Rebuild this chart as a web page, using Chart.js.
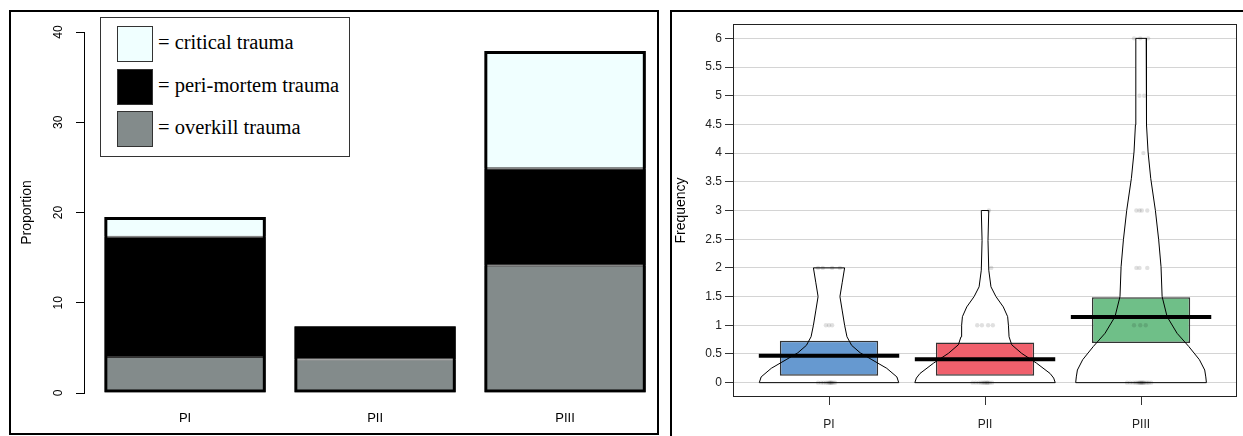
<!DOCTYPE html>
<html>
<head>
<meta charset="utf-8">
<script src="https://cdn.jsdelivr.net/npm/chart.js@4.4.0/dist/chart.umd.min.js"></script>
<style>
  body { margin: 0; background: #fff; width: 1243px; height: 436px; position: relative; overflow: hidden; font-family: 'Liberation Sans', Arial, sans-serif; }
  #leftPanel { position: absolute; left: 9px; top: 10px; width: 650px; height: 425px; box-sizing: border-box; border: 2px solid #000; }
  #rightPanel { position: absolute; left: 670px; top: 10px; width: 600px; height: 440px; box-sizing: border-box; border-left: 2px solid #000; border-top: 2px solid #000; }
  canvas { position: absolute; }
  #barCanvas { left: 12px; top: 13px; }
  #pirateCanvas { left: 673px; top: 13px; }
  #legend { position: absolute; left: 100px; top: 17px; width: 250px; height: 140px; box-sizing: border-box; border: 1px solid #333; background: #fff; }
  .swatch { position: absolute; left: 16px; width: 36px; height: 36px; box-sizing: border-box; border: 1px solid #333; }
  .legText { position: absolute; left: 57px; font-family: 'Liberation Serif', 'Times New Roman', serif; font-size: 20.5px; line-height: 20px; color: #000; white-space: nowrap; }
</style>
</head>
<body>
<div id="leftPanel"></div>
<div id="rightPanel"></div>
<canvas id="barCanvas" width="644" height="419"></canvas>
<canvas id="pirateCanvas" width="570" height="423"></canvas>
<div id="legend"></div>

<script>
// ---- left: stacked trauma proportions ----
const categories = ['PI', 'PII', 'PIII'];
const overkill = [4.0, 3.7, 14.1];
const periMortem = [13.3, 3.7, 10.8];
const critical = [2.2, 0, 13.0];
const proportionTicks = [0, 10, 20, 30, 40];
const legendLabels = ['= critical trauma', '= peri-mortem trauma', '= overkill trauma'];
const legendColors = ['#F0FFFF', '#000000', '#838B8B'];

// ---- right: pirate plot of frequencies ----
const frequencyTicks = [0, 0.5, 1, 1.5, 2, 2.5, 3, 3.5, 4, 4.5, 5, 5.5, 6];
const boxLow = [0.12, 0.12, 0.69];
const boxHigh = [0.73, 0.70, 1.49];
const means = [0.47, 0.41, 1.145];
const boxColors = ['#6699d0', '#f0606c', '#6fbf88'];

// violin outlines: [value, half width]
const violinPI = [[0, 0.447], [0.1, 0.435], [0.25, 0.37], [0.4, 0.275], [0.52, 0.2], [0.65, 0.145], [0.8, 0.115], [1.0, 0.1], [1.25, 0.085], [1.5, 0.07], [1.75, 0.085], [2.0, 0.1]];
const violinPII = [[0, 0.45], [0.08, 0.44], [0.16, 0.417], [0.34, 0.33], [0.51, 0.235], [0.66, 0.171], [0.8, 0.154], [1.0, 0.15], [1.15, 0.145], [1.32, 0.117], [1.5, 0.07], [1.67, 0.038], [1.96, 0.024], [2.48, 0.019], [3.0, 0.024]];
const violinPIII = [[0, 0.419], [0.1, 0.415], [0.22, 0.408], [0.4, 0.374], [0.63, 0.306], [0.86, 0.231], [1.15, 0.167], [1.5, 0.135], [2.02, 0.128], [2.49, 0.113], [3.0, 0.092], [3.56, 0.062], [4.02, 0.045], [4.49, 0.036], [5.07, 0.034], [6.0, 0.033]];

// raw observations: [jitter offset, value]
const pointsPI = [[-0.07, 0], [-0.05, 0], [-0.035, 0], [-0.02, 0], [-0.01, 0], [0, 0], [0.005, 0], [0.01, 0], [0.015, 0], [0.02, 0], [0.03, 0], [0.04, 0],
  [-0.02, 1], [0, 1], [0.02, 1], [-0.07, 2], [-0.04, 2], [0.02, 2], [0.07, 2]];
const pointsPII = [[-0.08, 0], [-0.06, 0], [-0.04, 0], [-0.025, 0], [-0.015, 0], [-0.005, 0], [0, 0], [0.01, 0], [0.015, 0], [0.02, 0], [0.03, 0], [0.045, 0],
  [-0.05, 1], [-0.02, 1], [0.02, 1], [0.05, 1], [0.04, 2], [0.025, 3]];
const pointsPIII = [[-0.09, 0], [-0.07, 0], [-0.05, 0], [-0.035, 0], [-0.025, 0], [-0.015, 0], [-0.01, 0], [-0.005, 0], [0, 0], [0.005, 0], [0.01, 0], [0.015, 0], [0.02, 0], [0.03, 0], [0.04, 0], [0.05, 0], [0.065, 0],
  [-0.045, 1], [-0.005, 1], [0.03, 1], [-0.03, 2], [-0.01, 2], [0.04, 2], [-0.03, 3], [-0.01, 3], [0.005, 3], [0.04, 3],
  [0.015, 4], [-0.01, 5], [0.02, 5], [-0.045, 6], [-0.005, 6], [0.045, 6]];

Chart.defaults.font.family = "'Liberation Sans', Arial, sans-serif";
Chart.defaults.color = '#000';

const xPos = categories.map((c, i) => i + 1);
const asPoints = arr => arr.map((v, i) => ({ x: xPos[i], y: v }));
const totals = categories.map((c, i) => overkill[i] + periMortem[i] + critical[i]);

// legend of the left panel
const legend = document.getElementById('legend');
const legendTops = [8, 51, 93];
legendLabels.forEach((txt, i) => {
    const sw = document.createElement('div');
    sw.className = 'swatch';
    sw.style.top = legendTops[i] + 'px';
    sw.style.background = legendColors[i];
    legend.appendChild(sw);
    const t = document.createElement('div');
    t.className = 'legText';
    t.style.top = (legendTops[i] + 6) + 'px';
    t.textContent = txt;
    legend.appendChild(t);
});

const segment = (label, values, color) => ({
    label: label, data: asPoints(values), backgroundColor: color,
    borderColor: '#333', borderWidth: 1, borderSkipped: false, stack: 'trauma', grouped: false
});

new Chart(document.getElementById('barCanvas'), {
    type: 'bar',
    data: {
        datasets: [
            { label: 'outline', data: asPoints(totals), backgroundColor: 'rgba(0,0,0,0)', borderColor: '#000', borderWidth: 3, borderSkipped: false, stack: 'outline', grouped: false },
            segment('overkill trauma', overkill, legendColors[2]),
            segment('peri-mortem trauma', periMortem, legendColors[1]),
            segment('critical trauma', critical, legendColors[0])
        ]
    },
    options: {
        responsive: false, animation: false, devicePixelRatio: 1,
        datasets: { bar: { barPercentage: 0.85, categoryPercentage: 1 } },
        layout: { padding: { top: 19, right: 6, left: 0, bottom: 0 } },
        plugins: { legend: { display: false }, tooltip: { enabled: false } },
        scales: {
            x: {
                type: 'linear', min: 0.468, max: 3.447, offset: false,
                grid: { display: false, drawTicks: false, offset: false }, border: { display: false },
                afterBuildTicks: s => { s.ticks = xPos.map(v => ({ value: v })); },
                afterFit: s => { s.height = 39; },
                ticks: { callback: v => categories[v - 1], padding: 18, font: { size: 13 }, color: '#000', autoSkip: false, maxRotation: 0 }
            },
            y: {
                stacked: true, min: 0, max: 40,
                afterBuildTicks: s => { s.ticks = proportionTicks.map(v => ({ value: v })); },
                afterFit: s => { s.width = 72; },
                grid: { drawOnChartArea: false, tickLength: 8, color: '#000' },
                border: { display: true, color: '#000', width: 1 },
                ticks: { minRotation: 90, maxRotation: 90, crossAlign: 'center', padding: 11, font: { size: 12 }, color: '#000' },
                title: { display: true, text: 'Proportion', font: { size: 14 }, color: '#000', padding: { top: 7, bottom: 0 } }
            }
        }
    }
});

// ---- pirate plot ----
const violins = [violinPI, violinPII, violinPIII];
const pointSets = [pointsPI, pointsPII, pointsPIII];

function violinShape(profile, i) {
    const c = xPos[i];
    const left = profile.map(([v, w]) => ({ x: c - w, y: v }));
    const right = profile.slice().reverse().map(([v, w]) => ({ x: c + w, y: v }));
    return left.concat(right, [left[0]]);
}

const plotFrame = {
    id: 'plotFrame',
    afterDatasetsDraw(chart) {
        const { ctx, chartArea: a } = chart;
        ctx.save();
        ctx.strokeStyle = '#222';
        ctx.lineWidth = 1;
        ctx.strokeRect(a.left + 0.5, a.top + 0.5, a.width - 1, a.height - 1);
        ctx.restore();
    }
};

const pirateSets = [];
violins.forEach((prof, i) => {
    pirateSets.push({ type: 'line', data: violinShape(prof, i), fill: 'shape', backgroundColor: '#fff', borderWidth: 0, pointRadius: 0, order: 10 });
});
pirateSets.push({
    type: 'bar', data: categories.map((c, i) => ({ x: xPos[i], y: [boxLow[i], boxHigh[i]] })),
    backgroundColor: boxColors, borderColor: '#333', borderWidth: 1.5, borderSkipped: false,
    grouped: false, barPercentage: 0.63, categoryPercentage: 1, order: 5
});
violins.forEach((prof, i) => {
    pirateSets.push({ type: 'line', data: violinShape(prof, i), fill: false, borderColor: '#000', borderWidth: 1, pointRadius: 0, order: 4 });
});
pirateSets.push({
    type: 'scatter',
    data: pointSets.flatMap((pts, i) => pts.map(([dx, v]) => ({ x: xPos[i] + dx, y: v }))),
    pointRadius: 2.2, backgroundColor: 'rgba(0,0,0,0.12)', borderWidth: 0, order: 2
});
means.forEach((m, i) => {
    pirateSets.push({ type: 'line', data: [{ x: xPos[i] - 0.45, y: m }, { x: xPos[i] + 0.45, y: m }], borderColor: '#000', borderWidth: 4, borderCapStyle: 'butt', pointRadius: 0, fill: false, order: 1 });
});

new Chart(document.getElementById('pirateCanvas'), {
    type: 'scatter',
    data: { datasets: pirateSets },
    options: {
        responsive: false, animation: false, devicePixelRatio: 1,
        layout: { padding: { top: 11, right: 6, left: 0, bottom: 0 } },
        plugins: { legend: { display: false }, tooltip: { enabled: false } },
        scales: {
            x: {
                type: 'linear', min: 0.3846, max: 3.615, offset: false,
                afterBuildTicks: s => { s.ticks = xPos.map(v => ({ value: v })); },
                afterFit: s => { s.height = 39; },
                grid: { drawOnChartArea: false, offset: false, color: '#333', tickColor: '#333', tickLength: 8 },
                border: { display: false },
                ticks: { callback: v => categories[v - 1], padding: 12, font: { size: 12 }, color: '#222', autoSkip: false, maxRotation: 0 }
            },
            y: {
                type: 'linear', min: -0.25, max: 6.25,
                afterBuildTicks: s => { s.ticks = frequencyTicks.map(v => ({ value: v })); },
                afterFit: s => { s.width = 60; },
                grid: { color: '#d4d4d4', tickColor: '#333', tickLength: 8, lineWidth: 1 },
                border: { display: false },
                ticks: { callback: v => String(v), padding: 3, font: { size: 12 }, color: '#222' },
                title: { display: true, text: 'Frequency', font: { size: 14 }, color: '#000', padding: { top: 0, bottom: 0 } }
            }
        }
    },
    plugins: [plotFrame]
});
</script>
</body>
</html>
